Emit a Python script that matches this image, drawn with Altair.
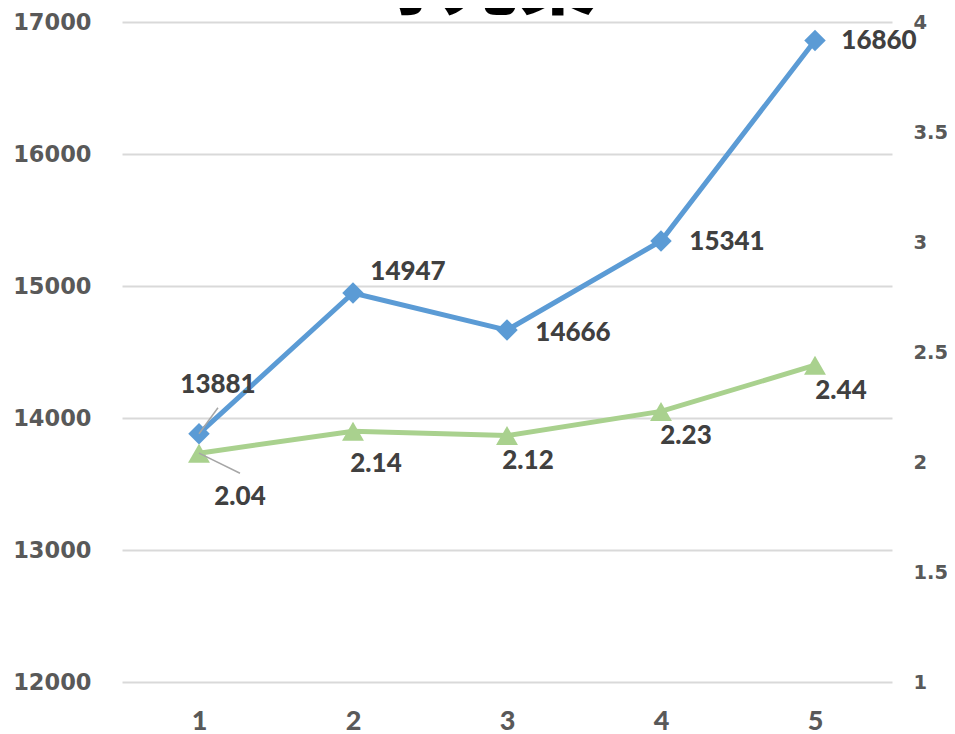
import altair as alt
import pandas as pd

# ---- data ----
categories = [1, 2, 3, 4, 5]
income = [13881, 14947, 14666, 15341, 16860]
ratio = [2.04, 2.14, 2.12, 2.23, 2.44]
title_text = "寻光集"

# label placement styling (pixel offsets from each point)
income_dx = [19, 55, 66, 66, 64]
income_dy = [-49, -21, 3, 1, 1]
ratio_dx = [41, 23, 21, 25, 26]
ratio_dy = [44, 33, 25, 25, 26]

BLUE = "#5B9BD5"
GREEN = "#A9D18E"
LABEL = "#404040"
AXIS = "#595959"

df = pd.DataFrame({"cat": categories, "income": income, "ratio": ratio})

xenc = alt.X("cat:O", title=None,
             axis=alt.Axis(labelAngle=0, labelFont="Lato", labelFontWeight=900,
                           labelFontSize=27, labelColor=AXIS, labelPadding=26,
                           ticks=False, domain=False, grid=False))

y_left = alt.Y("income:Q", title=None,
               scale=alt.Scale(domain=[12000, 17000], nice=False, zero=False),
               axis=alt.Axis(values=[12000, 13000, 14000, 15000, 16000, 17000],
                             format="d", labelFont="DejaVu Sans", labelFontWeight="bold",
                             labelFontSize=22.5, labelColor=AXIS, labelPadding=31,
                             ticks=False, domain=False, grid=True,
                             gridColor="#D9D9D9", gridWidth=2))

y_right = alt.Y("ratio:Q", title=None,
                scale=alt.Scale(domain=[1, 4], nice=False, zero=False),
                axis=alt.Axis(orient="right", values=[1, 1.5, 2, 2.5, 3, 3.5, 4],
                              format="~g",
                              labelFont="DejaVu Sans", labelFontWeight="bold",
                              labelFontSize=19.5, labelColor=AXIS, labelPadding=21,
                              ticks=False, domain=False, grid=False))

base = alt.Chart(df)

blue_line = base.mark_line(color=BLUE, strokeWidth=5).encode(x=xenc, y=y_left)
blue_pts = base.mark_point(shape="diamond", filled=True, color=BLUE, size=460, opacity=1).encode(x=xenc, y=y_left)

# leader line for first income label
blue_leader = base.transform_filter(alt.datum.cat == 1).mark_point(
    shape="M0,0L0.73,-1", filled=False, stroke="#A6A6A6", strokeWidth=1.5, size=2704, opacity=1
).encode(x=xenc, y=y_left)

blue_labels = []
for c, v, dx, dy in zip(categories, income, income_dx, income_dy):
    blue_labels.append(
        base.transform_filter(alt.datum.cat == c).mark_text(
            font="Lato", fontWeight=900, fontSize=26, color=LABEL, dx=dx, dy=dy,
            align="center", baseline="middle"
        ).encode(x=xenc, y=y_left, text=alt.Text("income:Q", format="d"))
    )

green_line = base.mark_line(color=GREEN, strokeWidth=5).encode(x=xenc, y=y_right)
green_pts = base.mark_point(shape="triangle-up", filled=True, color=GREEN, size=480, opacity=1).encode(x=xenc, y=y_right)
green_leader = base.transform_filter(alt.datum.cat == 1).mark_point(
    shape="M0,0L1,0.49", filled=False, stroke="#A6A6A6", strokeWidth=1.5, size=6724, opacity=1
).encode(x=xenc, y=y_right)

green_labels = []
for c, v, dx, dy in zip(categories, ratio, ratio_dx, ratio_dy):
    green_labels.append(
        base.transform_filter(alt.datum.cat == c).mark_text(
            font="Lato", fontWeight=900, fontSize=26, color=LABEL, dx=dx, dy=dy,
            align="center", baseline="middle"
        ).encode(x=xenc, y=y_right, text=alt.Text("ratio:Q", format=".2f"))
    )

title_mark = alt.Chart(pd.DataFrame({"t": [title_text]})).mark_text(
    font="Noto Sans CJK SC", fontWeight=900, fontSize=78, color="#000000",
    align="center", baseline="alphabetic"
).encode(text="t:N", x=alt.value(358), y=alt.value(-14))

left_layer = alt.layer(blue_line, blue_pts, blue_leader, *blue_labels)
right_layer = alt.layer(green_line, green_pts, green_leader, *green_labels)

chart = alt.layer(left_layer, right_layer, title_mark).resolve_scale(y="independent").properties(
    width=770, height=660,
    autosize=alt.AutoSizeParams(type="none"),
    padding={"left": 114, "top": 14, "right": 55, "bottom": 52},
).configure_view(stroke=None).configure_scale(bandPaddingInner=0, bandPaddingOuter=0)

chart.save("out.html", embed_options={"renderer": "svg", "actions": False})
